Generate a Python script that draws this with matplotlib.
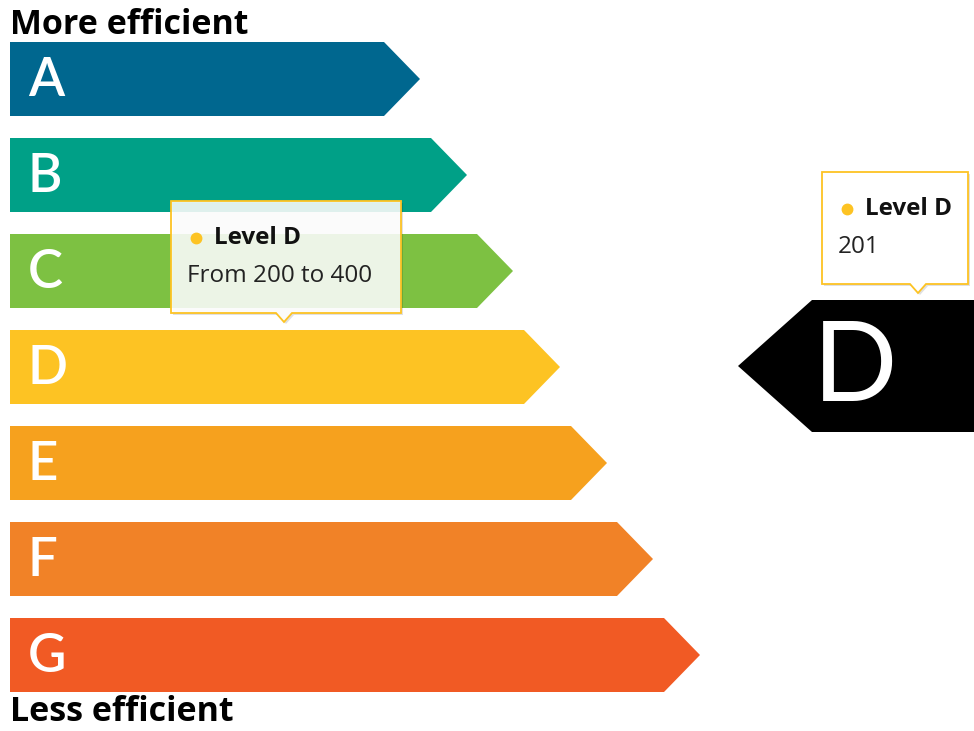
import matplotlib.pyplot as plt
from matplotlib.patches import Polygon

# Data
levels = ['A', 'B', 'C', 'D', 'E', 'F', 'G']
bar_lengths = [420, 467, 513, 560, 607, 653, 700]
colors = ['#00678f', '#00a087', '#7dc142', '#fdc323', '#f6a11e', '#f18227', '#f15a24']
ranges = ['', '', '', 'From 200 to 400', '', '', '']
current_level = 'D'
current_value = 201
hovered_level = 'D'

plt.rcParams['font.family'] = ['Open Sans', 'DejaVu Sans']

fig = plt.figure(figsize=(9.74, 7.31), dpi=100)
ax = fig.add_axes([0, 0, 1, 1])
ax.set_xlim(0, 974)
ax.set_ylim(731, 0)
ax.axis('off')

x0 = 10
bar_h = 74
step = 96
top0 = 42
tip = 36

# Level arrows
for i, (lvl, length, c) in enumerate(zip(levels, bar_lengths, colors)):
    top = top0 + i * step
    bot = top + bar_h
    mid = (top + bot) / 2
    pts = [(x0, top), (length - tip, top), (length, mid), (length - tip, bot), (x0, bot)]
    ax.add_patch(Polygon(pts, closed=True, facecolor=c, edgecolor='none', zorder=2))
    ax.text(28, mid + 2, lvl, color='white', fontsize=38, fontweight='semibold',
            family=['Lato', 'DejaVu Sans'], ha='left', va='center', zorder=3)

ax.text(10, 34, 'More efficient', fontsize=24.5, fontweight='bold', ha='left', va='baseline')
ax.text(10, 721, 'Less efficient', fontsize=24.5, fontweight='bold', ha='left', va='baseline')

# Current value indicator (black arrow)
ci = levels.index(current_level)
c_mid = top0 + ci * step + bar_h / 2 - 1
half = 66
left_tip = 738
ax.add_patch(Polygon([(left_tip, c_mid), (812, c_mid - half), (974, c_mid - half),
                      (974, c_mid + half), (812, c_mid + half)],
                     closed=True, facecolor='black', edgecolor='none', zorder=2))
ax.text(855, c_mid + 4, current_level, color='white', fontsize=80, family=['Lato', 'DejaVu Sans'],
        ha='center', va='center', zorder=3)


def tooltip(xl, xr, yt, yb, px, alpha, lines, level_color):
    outline = [(xl, yt), (xr, yt), (xr, yb), (px + 8, yb), (px, yb + 9), (px - 8, yb), (xl, yb)]
    shadow = [(x + 2, y + 2) for x, y in outline]
    ax.add_patch(Polygon(shadow, closed=True, facecolor='#000000', alpha=0.12, edgecolor='none', zorder=4))
    ax.add_patch(Polygon(outline, closed=True, facecolor='white', alpha=alpha, edgecolor='none', zorder=5))
    ax.add_patch(Polygon(outline, closed=True, facecolor='none', edgecolor=level_color, lw=1.3, zorder=6))
    ax.plot(xl + 25, yt + 37, 'o', ms=7.5, color=level_color, zorder=7)
    ax.text(xl + 43, yt + 37, lines[0], fontsize=17.5, fontweight='bold', color='#111111',
            ha='left', va='center', zorder=7)
    ax.text(xl + 16, yt + 75, lines[1], fontsize=17.5, color='#222222', ha='left', va='center', zorder=7)


hi = levels.index(hovered_level)
tooltip(171, 401, 201, 313, 284, 0.88, ['Level ' + hovered_level, ranges[hi]], colors[hi])
tooltip(822, 968, 172, 284, 918, 1.0, ['Level ' + current_level, str(current_value)], colors[ci])

fig.savefig('out.png', dpi=100)
